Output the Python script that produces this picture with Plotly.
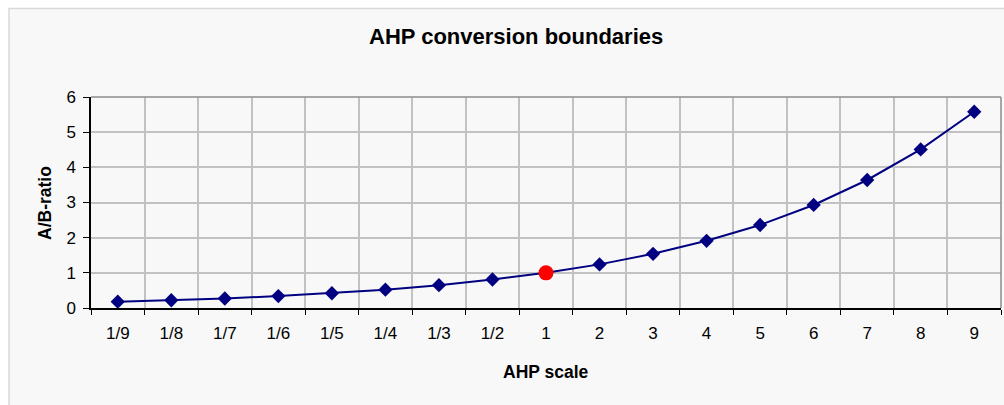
import plotly.graph_objects as go

categories = ["1/9", "1/8", "1/7", "1/6", "1/5", "1/4", "1/3", "1/2", "1",
              "2", "3", "4", "5", "6", "7", "8", "9"]
ratio_values = [0.18, 0.22, 0.27, 0.34, 0.42, 0.52, 0.65, 0.81, 1.0,
                1.24, 1.54, 1.91, 2.36, 2.93, 3.64, 4.51, 5.58]
highlight_category = ["1"]
highlight_value = [1.0]

TITLE = "AHP conversion boundaries"
X_TITLE = "AHP scale"
Y_TITLE = "A/B-ratio"

L, R, T, B = 91, 3, 97, 97
W, H = 1004, 405
pw, ph = W - L - R, H - T - B

def px_x(p):
    return (p - L) / pw

def px_y(p):
    return (H - B - p) / ph

fig = go.Figure()
fig.add_trace(go.Scatter(
    x=categories, y=ratio_values, mode="lines+markers",
    line=dict(color="#000080", width=2),
    marker=dict(symbol="diamond", size=11, color="#000080"),
    showlegend=False, hoverinfo="x+y"))
fig.add_trace(go.Scatter(
    x=highlight_category, y=highlight_value, mode="markers",
    marker=dict(symbol="circle", size=15, color="#ff0000"),
    showlegend=False, hoverinfo="x+y"))

font_main = "Liberation Sans, Arial, sans-serif"

fig.update_layout(
    width=W, height=H,
    margin=dict(l=L, r=R, t=T, b=B),
    paper_bgcolor="#ffffff",
    plot_bgcolor="#e9e9e9",
    font=dict(family=font_main, size=16, color="#000000"),
    xaxis=dict(type="category", categoryorder="array", categoryarray=categories,
               range=[-0.5, len(categories) - 0.5],
               tickson="boundaries", ticks="outside", ticklen=5, tickcolor="#000000",
               showgrid=True, gridcolor="#c2c2c2", gridwidth=1.5,
               showline=True, linecolor="#000000", linewidth=1.5,
               ticklabelstandoff=9,
               tickfont=dict(size=17), fixedrange=True),
    yaxis=dict(range=[0, 6], dtick=1, tick0=0, ticks="outside", ticklen=6,
               tickcolor="#000000", showgrid=True, gridcolor="#c2c2c2", gridwidth=1.5,
               showline=True, linecolor="#000000", linewidth=1.5, zeroline=False,
               ticklabelstandoff=4,
               tickfont=dict(size=17), fixedrange=True),
    shapes=[
        dict(type="rect", xref="paper", yref="paper", layer="below",
             x0=px_x(9), x1=px_x(W + 20), y0=px_y(H + 20), y1=px_y(8.5),
             fillcolor="#f8f8f8", line=dict(color="#d9d9d9", width=1.5)),
        dict(type="line", xref="paper", yref="paper", layer="above",
             x0=0, x1=1, y0=1, y1=1, line=dict(color="#8c8c8c", width=1.5)),
        dict(type="line", xref="paper", yref="paper", layer="above",
             x0=1, x1=1, y0=0, y1=1, line=dict(color="#8c8c8c", width=1.5)),
    ],
    annotations=[
        dict(text="<b>%s</b>" % TITLE, xref="paper", yref="paper",
             x=px_x(515.5), y=px_y(36), showarrow=False,
             xanchor="center", yanchor="middle",
             font=dict(family=font_main, size=22, color="#000000")),
        dict(text="<b>%s</b>" % X_TITLE, xref="paper", yref="paper",
             x=px_x(546), y=px_y(372), showarrow=False,
             xanchor="center", yanchor="middle",
             font=dict(family=font_main, size=17.5, color="#000000")),
        dict(text="<b>%s</b>" % Y_TITLE, xref="paper", yref="paper",
             x=px_x(45), y=px_y(203), showarrow=False, textangle=-90,
             xanchor="center", yanchor="middle",
             font=dict(family=font_main, size=17.5, color="#000000")),
    ],
)

fig.write_html(
    "out.html",
    config={"displayModeBar": False},
    post_script="document.body.style.margin='0';document.body.style.overflow='hidden';",
)
